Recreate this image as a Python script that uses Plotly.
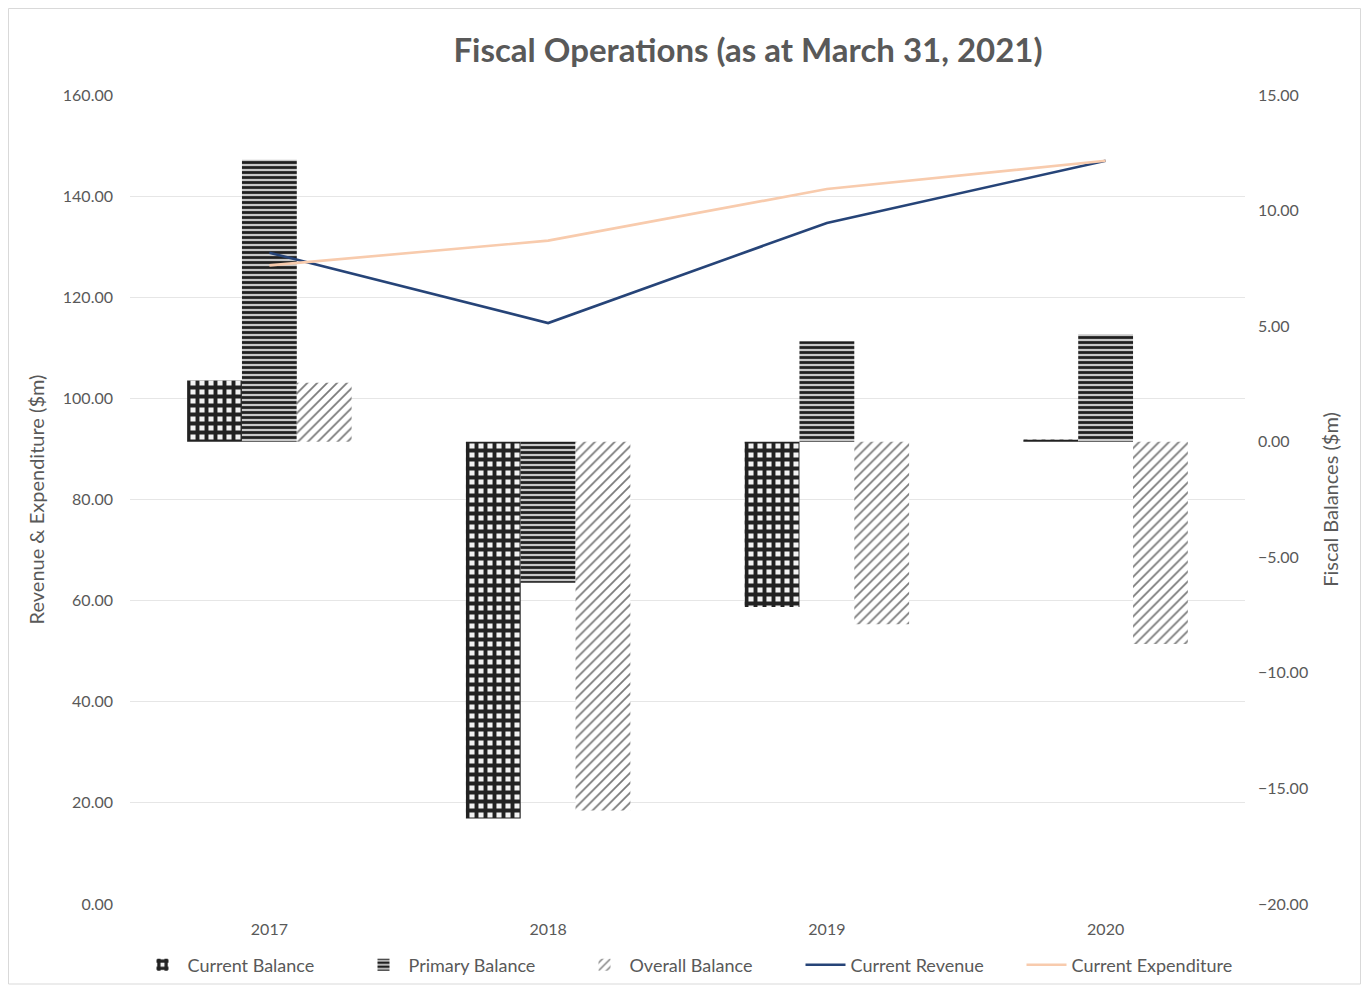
import plotly.graph_objects as go

years = ["2017", "2018", "2019", "2020"]
current_balance = [2.65, -16.3, -7.15, 0.1]
primary_balance = [12.2, -6.1, 4.35, 4.65]
overall_balance = [2.55, -15.95, -7.9, -8.75]
current_revenue = [128.8, 114.9, 134.7, 147.0]
current_expenditure = [126.3, 131.2, 141.4, 147.0]

left_ticks = [0, 20, 40, 60, 80, 100, 120, 140, 160]
right_ticks = [-20, -15, -10, -5, 0, 5, 10, 15]

FONT = "Lato"
GREY = "#595959"

W, H = 1353, 977
L, T = 122, 87
PW, PH = 1115, 809

fig = go.Figure()

fig.add_trace(go.Bar(
    x=years, y=current_balance, name="Current Balance", yaxis="y",
    marker=dict(color="#e6e6e6", line=dict(width=0),
                pattern=dict(shape="+", fgcolor="#222222", bgcolor="#f2f2f2",
                             size=9, solidity=0.68, fillmode="replace")),
))
fig.add_trace(go.Bar(
    x=years, y=primary_balance, name="Primary Balance", yaxis="y",
    marker=dict(color="#bdbdbd", line=dict(width=0),
                pattern=dict(shape="-", fgcolor="#1f1f1f", bgcolor="#c8c8c8",
                             size=5, solidity=0.55, fillmode="replace")),
))
fig.add_trace(go.Bar(
    x=years, y=overall_balance, name="Overall Balance", yaxis="y",
    marker=dict(color="#ffffff", line=dict(width=0),
                pattern=dict(shape="/", fgcolor="#7a7a7a", bgcolor="#ffffff",
                             size=7, solidity=0.25, fillmode="replace")),
))
fig.add_trace(go.Scatter(
    x=years, y=current_revenue, name="Current Revenue", yaxis="y2",
    mode="lines", line=dict(color="#264478", width=2.6),
))
fig.add_trace(go.Scatter(
    x=years, y=current_expenditure, name="Current Expenditure", yaxis="y2",
    mode="lines", line=dict(color="#F8CBAD", width=2.6),
))

fig.update_layout(
    width=W, height=H,
    paper_bgcolor="white", plot_bgcolor="white",
    margin=dict(l=L, r=W - L - PW, t=T, b=H - T - PH, autoexpand=False),
    font=dict(family=FONT, color=GREY, size=16),
    barmode="group", bargap=0.41, bargroupgap=0,
    title=dict(text="<b>Fiscal Operations (as at March 31, 2021)</b>",
               x=740 / W, xanchor="center", y=1 - 42 / H, yanchor="middle",
               font=dict(family=FONT, size=33, color=GREY)),
    xaxis=dict(type="category", showgrid=False, zeroline=False,
               showline=False, ticks="", ticklabelstandoff=14,
               tickfont=dict(size=16, color=GREY)),
    yaxis=dict(side="right", range=[-20, 15], tickvals=right_ticks,
               tickformat=".2f", showgrid=False, zeroline=False,
               ticklabelstandoff=12,
               title=dict(text="Fiscal Balances ($m)", font=dict(size=20, color=GREY), standoff=16),
               tickfont=dict(size=16, color=GREY), ticks=""),
    yaxis2=dict(side="left", overlaying="y", range=[0, 160], tickvals=left_ticks,
                tickformat=".2f", showgrid=True, gridcolor="#e6e6e6", gridwidth=1,
                zeroline=False, ticklabelstandoff=16,
                title=dict(text="Revenue & Expenditure ($m)", font=dict(size=20, color=GREY), standoff=12),
                tickfont=dict(size=16, color=GREY), ticks=""),
    legend=dict(orientation="h", x=(690 - 8) / W, xanchor="center",
                xref="container", yref="container",
                y=(H - 957) / H, yanchor="middle",
                bgcolor="rgba(0,0,0,0)",
                font=dict(size=18, color=GREY), traceorder="normal",
                itemwidth=40, tracegroupgap=0,
                entrywidth=166, entrywidthmode="pixels"),
    showlegend=True,
)

fig.add_shape(type="rect", xref="paper", yref="paper",
              x0=(0.5 - L) / PW, x1=(W - 0.5 - L) / PW,
              y0=-(H - 1 - T - PH) / PH, y1=1 + (T - 0.5) / PH,
              line=dict(color="#d9d9d9", width=1), fillcolor="rgba(0,0,0,0)", layer="below")

fig.write_html("out.html")
